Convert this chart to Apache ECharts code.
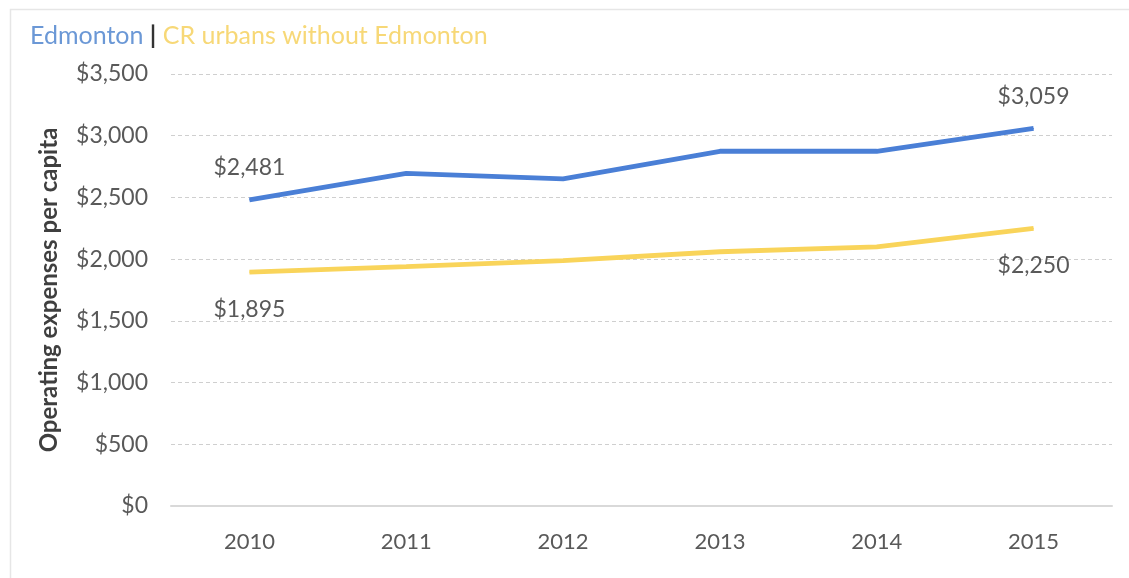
<!DOCTYPE html>
<html>
<head>
<meta charset="utf-8">
<script src="https://cdn.jsdelivr.net/npm/echarts@6/dist/echarts.min.js"></script>
<style>
  html, body { margin: 0; padding: 0; background: #ffffff; }
  #chart { width: 1129px; height: 578px; }
</style>
</head>
<body>
<div id="chart"></div>
<script>
// Operating expenses per capita, 2010–2015
const years = ['2010', '2011', '2012', '2013', '2014', '2015'];
const edmonton = [2481, 2695, 2650, 2874, 2874, 3059];
const crUrbans = [1895, 1940, 1988, 2060, 2100, 2250];
const yTicks = [0, 500, 1000, 1500, 2000, 2500, 3000, 3500];

const FONT = 'Lato, "Open Sans", "Liberation Sans", sans-serif';
const GREY = '#595959';
const BLUE = '#4a7fd6';
const YELLOW = '#f9d45a';

function money(v) {
  return '$' + Number(v).toLocaleString('en-US');
}

// Only the first and last point of each series carry a value label
function endLabel(position, distance) {
  const last = years.length - 1;
  return {
    show: true,
    position: position,
    distance: distance,
    formatter: p => (p.dataIndex === 0 || p.dataIndex === last) ? money(p.value) : '',
    color: GREY,
    fontSize: 23,
    fontFamily: FONT
  };
}

const chart = echarts.init(document.getElementById('chart'), null, { renderer: 'canvas' });

chart.setOption({
  backgroundColor: '#ffffff',
  animation: false,
  graphic: [
    {
      type: 'rect',
      left: 8, top: 7,
      shape: { width: 1200, height: 600 },
      style: { fill: 'none', stroke: '#e6e6e6', lineWidth: 1.5 }
    },
    {
      type: 'text',
      left: 30, top: 23,
      style: {
        text: '{a|Edmonton }{b||}{c| CR urbans without Edmonton}',
        rich: {
          a: { fill: '#6b98d6', fontSize: 25, fontFamily: FONT },
          b: { fill: '#333333', fontSize: 25, fontFamily: FONT, fontWeight: 'bold' },
          c: { fill: '#f7d877', fontSize: 25, fontFamily: FONT }
        }
      }
    }
  ],
  grid: { left: 171, right: 17, top: 74, bottom: 72 },
  xAxis: {
    type: 'category',
    data: years,
    boundaryGap: true,
    axisLine: { show: true, lineStyle: { color: '#d9d9d9', width: 2 } },
    axisTick: { show: false },
    axisLabel: { color: GREY, fontSize: 22, fontFamily: FONT, margin: 25 }
  },
  yAxis: {
    type: 'value',
    min: yTicks[0],
    max: yTicks[yTicks.length - 1],
    interval: 500,
    name: 'Operating expenses per capita',
    nameLocation: 'middle',
    nameGap: 110,
    nameRotate: 90,
    nameTextStyle: { color: '#3f3f3f', fontSize: 24, fontFamily: FONT, fontWeight: 'bold' },
    axisLine: { show: false },
    axisTick: { show: false },
    axisLabel: { color: GREY, fontSize: 23, fontFamily: FONT, margin: 23, formatter: v => money(v) },
    splitLine: { show: true, lineStyle: { color: '#cfcfcf', type: [4, 3], width: 1 } }
  },
  series: [
    {
      name: 'Edmonton',
      type: 'line',
      data: edmonton,
      symbol: 'circle',
      symbolSize: 1,
      showSymbol: true,
      label: endLabel('top', 20),
      lineStyle: { color: BLUE, width: 4.8 },
      itemStyle: { color: BLUE },
      z: 3
    },
    {
      name: 'CR urbans without Edmonton',
      type: 'line',
      data: crUrbans,
      symbol: 'circle',
      symbolSize: 1,
      showSymbol: true,
      label: endLabel('bottom', 25),
      lineStyle: { color: YELLOW, width: 4.8 },
      itemStyle: { color: YELLOW },
      z: 2
    }
  ]
});
</script>
</body>
</html>
